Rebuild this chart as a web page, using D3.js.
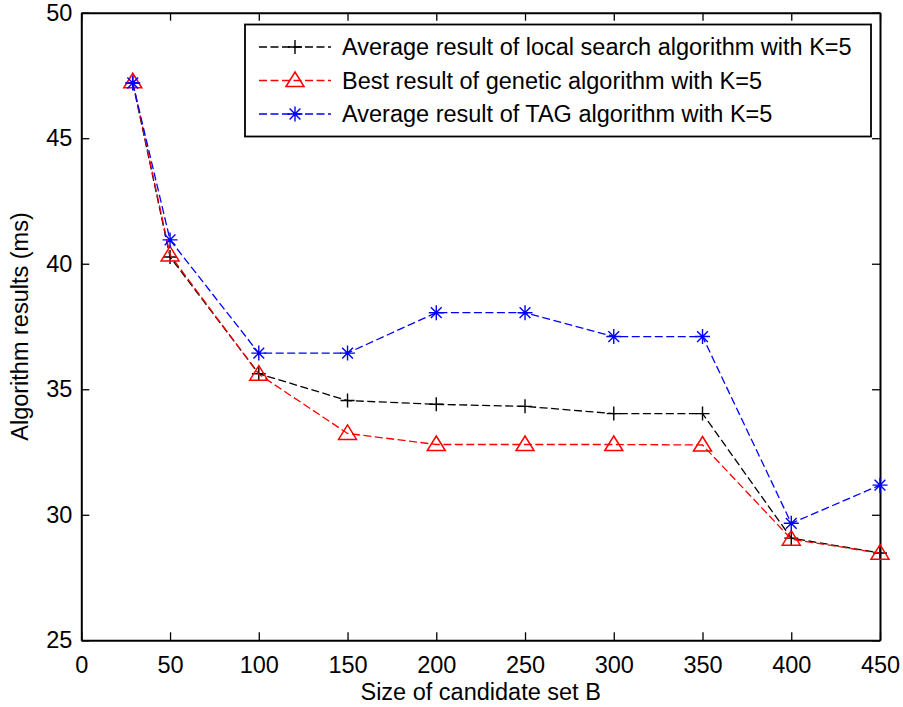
<!DOCTYPE html>
<html>
<head>
<meta charset="utf-8">
<title>Algorithm results</title>
<script src="https://d3js.org/d3.v7.min.js"></script>
<style>
  body { margin: 0; background: #fff; }
  text { font-family: "Liberation Sans", Arial, sans-serif; fill: #000; }
</style>
</head>
<body>
<svg id="chart" width="903" height="707"></svg>
<script>
// data
const sizes = [29, 50, 100, 150, 200, 250, 300, 350, 400, 450];
const localSearch = [47.2, 40.27, 35.62, 34.55, 34.4, 34.32, 34.03, 34.03, 29.07, 28.48];
const genetic = [47.25, 40.35, 35.6, 33.24, 32.8, 32.8, 32.8, 32.78, 29.03, 28.47];
const tag = [47.2, 40.95, 36.44, 36.44, 38.05, 38.05, 37.1, 37.1, 29.66, 31.18];
const xTicks = [0, 50, 100, 150, 200, 250, 300, 350, 400, 450];
const yTicks = [25, 30, 35, 40, 45, 50];

const series = [
  { name: "Average result of local search algorithm with K=5", values: localSearch, color: "#000000", marker: "plus" },
  { name: "Best result of genetic algorithm with K=5", values: genetic, color: "#ff0000", marker: "triangle" },
  { name: "Average result of TAG algorithm with K=5", values: tag, color: "#0000ff", marker: "star" }
];

const plotL = 81.3, plotR = 880, plotT = 12.7, plotB = 640.3;
const fs = 23.5;
const svg = d3.select("#chart");

const x = d3.scaleLinear().domain([0, 450]).range([plotL, plotR]);
const y = d3.scaleLinear().domain([25, 50]).range([plotB, plotT]);

// axes with inward ticks, mirrored on top/right
const tickLen = 8;
svg.append("g").attr("transform", `translate(0,${plotB})`)
  .call(d3.axisBottom(x).tickValues(xTicks).tickSizeInner(-tickLen).tickSizeOuter(0).tickPadding(16))
  .call(g => g.selectAll("text").attr("font-size", fs));
svg.append("g").attr("transform", `translate(0,${plotT})`)
  .call(d3.axisTop(x).tickValues(xTicks).tickSizeInner(-tickLen).tickSizeOuter(0).tickFormat(""));
svg.append("g").attr("transform", `translate(${plotL},0)`)
  .call(d3.axisLeft(y).tickValues(yTicks).tickSizeInner(-tickLen).tickSizeOuter(0).tickPadding(9))
  .call(g => g.selectAll("text").attr("font-size", fs));
svg.append("g").attr("transform", `translate(${plotR},0)`)
  .call(d3.axisRight(y).tickValues(yTicks).tickSizeInner(-tickLen).tickSizeOuter(0).tickFormat(""));
svg.selectAll(".domain").attr("stroke", "#000").attr("stroke-width", 2);
svg.selectAll(".tick line").attr("stroke", "#000").attr("stroke-width", 1.3);
svg.selectAll(".tick text").attr("fill", "#000");

// axis labels
svg.append("text").attr("x", (plotL + plotR) / 2).attr("y", 700)
  .attr("text-anchor", "middle").attr("font-size", fs).text("Size of candidate set B");
svg.append("text").attr("transform", `translate(28,${(plotT + plotB) / 2}) rotate(-90)`)
  .attr("text-anchor", "middle").attr("font-size", fs).text("Algorithm results (ms)");

function drawMarker(g, type, color, cx, cy) {
  if (type === "plus") {
    g.append("path").attr("d", `M${cx - 7},${cy}H${cx + 7}M${cx},${cy - 7}V${cy + 7}`)
      .attr("stroke", color).attr("stroke-width", 1.4).attr("fill", "none");
  } else if (type === "triangle") {
    g.append("path").attr("d", `M${cx},${cy - 8.5}L${cx + 9},${cy + 6}L${cx - 9},${cy + 6}Z`)
      .attr("stroke", color).attr("stroke-width", 1.5).attr("fill", "none");
  } else {
    const r = 7.5, d = r * 0.72;
    g.append("path")
      .attr("d", `M${cx - r},${cy}H${cx + r}M${cx},${cy - r}V${cy + r}M${cx - d},${cy - d}L${cx + d},${cy + d}M${cx - d},${cy + d}L${cx + d},${cy - d}`)
      .attr("stroke", color).attr("stroke-width", 1.4).attr("fill", "none");
  }
}

const line = d3.line().x((d, i) => x(sizes[i])).y(d => y(d));
series.forEach(s => {
  const g = svg.append("g");
  g.append("path").datum(s.values).attr("d", line)
    .attr("fill", "none").attr("stroke", s.color).attr("stroke-width", 1.3)
    .attr("stroke-dasharray", "8,3.5");
  s.values.forEach((v, i) => drawMarker(g, s.marker, s.color, x(sizes[i]), y(v)));
});

// legend
const lg = svg.append("g");
lg.append("rect").attr("x", 245).attr("y", 24.5).attr("width", 626).attr("height", 112)
  .attr("fill", "#fff").attr("stroke", "#000").attr("stroke-width", 1.8);
series.forEach((s, i) => {
  const ly = 47 + i * 33.5;
  lg.append("line").attr("x1", 259).attr("x2", 331).attr("y1", ly).attr("y2", ly)
    .attr("stroke", s.color).attr("stroke-width", 1.3).attr("stroke-dasharray", "8,3.5");
  drawMarker(lg, s.marker, s.color, 295, ly);
  lg.append("text").attr("x", 342).attr("y", ly).attr("dy", "0.36em")
    .attr("font-size", fs).text(s.name);
});
</script>
</body>
</html>
